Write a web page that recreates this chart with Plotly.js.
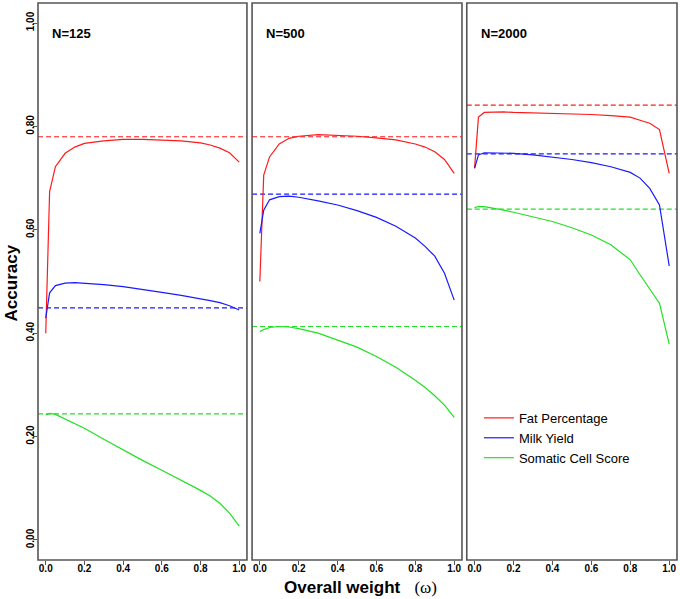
<!DOCTYPE html>
<html>
<head>
<meta charset="utf-8">
<script src="https://cdn.plot.ly/plotly-3.0.1.min.js"></script>
<style>
  html, body { margin: 0; padding: 0; background: #fff; }
  #chart { width: 680px; height: 599px; }
</style>
</head>
<body>
<div id="chart"></div>
<script>
// overall weight (omega) grid
const omega = [0, 0.02, 0.05, 0.1, 0.15, 0.2, 0.3, 0.4, 0.5, 0.6, 0.7, 0.8, 0.85, 0.9, 0.95, 1.0];

const panelNames = ['N=125', 'N=500', 'N=2000'];
const traitNames = ['Fat Percentage', 'Milk Yield', 'Somatic Cell Score'];

// N=125
const fat125  = [0.400, 0.674, 0.722, 0.748, 0.760, 0.767, 0.772, 0.775, 0.775, 0.774, 0.772, 0.768, 0.764, 0.758, 0.749, 0.731];
const milk125 = [0.429, 0.478, 0.492, 0.497, 0.498, 0.497, 0.494, 0.490, 0.485, 0.479, 0.473, 0.467, 0.463, 0.459, 0.453, 0.445];
const scs125  = [0.242, 0.245, 0.243, 0.234, 0.226, 0.216, 0.195, 0.174, 0.154, 0.135, 0.116, 0.096, 0.085, 0.071, 0.052, 0.027];

// N=500
const fat500  = [0.500, 0.706, 0.741, 0.766, 0.777, 0.781, 0.784, 0.783, 0.781, 0.778, 0.774, 0.766, 0.760, 0.751, 0.736, 0.709];
const milk500 = [0.593, 0.638, 0.658, 0.664, 0.665, 0.663, 0.656, 0.648, 0.637, 0.624, 0.607, 0.584, 0.568, 0.549, 0.516, 0.464];
const scs500  = [0.403, 0.407, 0.411, 0.413, 0.412, 0.409, 0.400, 0.387, 0.373, 0.355, 0.334, 0.309, 0.295, 0.279, 0.261, 0.237];

// N=2000
const fat2000  = [0.719, 0.818, 0.827, 0.828, 0.828, 0.827, 0.826, 0.826, 0.824, 0.823, 0.821, 0.818, 0.812, 0.806, 0.794, 0.709];
const milk2000 = [0.719, 0.745, 0.749, 0.749, 0.749, 0.748, 0.745, 0.741, 0.736, 0.730, 0.722, 0.711, 0.700, 0.680, 0.648, 0.530];
const scs2000  = [0.643, 0.645, 0.645, 0.642, 0.638, 0.634, 0.625, 0.616, 0.604, 0.590, 0.571, 0.542, 0.513, 0.486, 0.458, 0.379];

// reference accuracies (dashed lines): fat, milk, scs
const ref125  = [0.780, 0.449, 0.244];
const ref500  = [0.780, 0.669, 0.413];
const ref2000 = [0.841, 0.747, 0.640];

const panels = [
    [fat125, milk125, scs125, ref125],
    [fat500, milk500, scs500, ref500],
    [fat2000, milk2000, scs2000, ref2000]
];

const colors = ['#ff1a1a', '#1a1aff', '#22e022'];
const xRange = [-0.04, 1.04];
const yRange = [-0.0387, 1.0387];
const domains = [[0, 0.327], [0.335, 0.6635], [0.671, 1]];

const data = [];
panels.forEach((p, i) => {
    const xa = i === 0 ? 'x' : 'x' + (i + 1);
    const ya = i === 0 ? 'y' : 'y' + (i + 1);
    const ref = p[3];
    for (let k = 0; k < 3; k++) {
        data.push({
            x: xRange, y: [ref[k], ref[k]],
            xaxis: xa, yaxis: ya, mode: 'lines', showlegend: false,
            line: {color: colors[k], width: 1.2, dash: '5px,3px'}, hoverinfo: 'skip'
        });
    }
    for (let k = 0; k < 3; k++) {
        data.push({
            x: omega, y: p[k], name: traitNames[k],
            xaxis: xa, yaxis: ya, mode: 'lines', showlegend: i === 2,
            line: {color: colors[k], width: 1.2}
        });
    }
});

const tickFont = {family: 'Liberation Sans, Arial, sans-serif', size: 10, color: '#000', weight: 'bold'};

const xAxisBase = (d, anchor) => ({
    domain: d, range: xRange, anchor: anchor,
    showgrid: false, zeroline: false, showline: false,
    tickvals: [0, 0.2, 0.4, 0.6, 0.8, 1.0], ticktext: ['0.0', '0.2', '0.4', '0.6', '0.8', '1.0'],
    ticks: 'outside', ticklen: 4, tickcolor: '#555', tickwidth: 1,
    ticklabelstandoff: -5,
    tickfont: tickFont
});

const layout = {
    width: 680, height: 599,
    margin: {l: 38, r: 3, t: 3, b: 39},
    paper_bgcolor: '#fff', plot_bgcolor: '#fff',
    font: {family: 'Liberation Sans, Arial, sans-serif', color: '#000'},
    xaxis: xAxisBase(domains[0], 'y'),
    xaxis2: xAxisBase(domains[1], 'y2'),
    xaxis3: xAxisBase(domains[2], 'y3'),
    yaxis: {
        range: yRange, showgrid: false, zeroline: false, showline: false,
        tickvals: [0, 0.2, 0.4, 0.6, 0.8, 1.0], ticktext: ['0.00', '0.20', '0.40', '0.60', '0.80', '1.00'],
        ticks: 'outside', ticklen: 4, tickcolor: '#555', tickangle: -90,
        ticklabelstandoff: -5,
        tickfont: tickFont
    },
    yaxis2: {range: yRange, anchor: 'x2', visible: false},
    yaxis3: {range: yRange, anchor: 'x3', visible: false},
    showlegend: true,
    legend: {
        x: 0.69, y: 0.282, xanchor: 'left', yanchor: 'top',
        bgcolor: 'rgba(0,0,0,0)', borderwidth: 0,
        font: {family: 'Liberation Sans, Arial, sans-serif', size: 13, color: '#000'},
        itemwidth: 30, tracegroupgap: 0
    },
    shapes: [],
    annotations: []
};

// panel frames and labels
['x', 'x2', 'x3'].forEach((xa, i) => {
    const ya = i === 0 ? 'y' : 'y' + (i + 1);
    layout.shapes.push({
        type: 'rect', xref: xa + ' domain', yref: ya + ' domain',
        x0: 0, x1: 1, y0: 0, y1: 1,
        line: {color: '#555', width: 1.6}
    });
    layout.annotations.push({
        text: '<b>' + panelNames[i] + '</b>', xref: xa + ' domain', yref: ya + ' domain',
        x: 0.058, y: 0.946, xanchor: 'left', yanchor: 'middle', showarrow: false,
        font: {size: 13, color: '#000'}
    });
});

layout.annotations.push({
    text: '<b>Accuracy</b>', xref: 'paper', yref: 'paper',
    x: -0.041, xanchor: 'center', y: 0.498, yanchor: 'middle',
    textangle: -90, showarrow: false, font: {size: 17, color: '#000'}
});
layout.annotations.push({
    text: '<b>Overall weight</b>   <span style="font-family:Liberation Serif, Times New Roman, serif;font-weight:normal">(ω)</span>',
    xref: 'paper', yref: 'paper',
    x: 0.504, xanchor: 'center', y: -0.05, yanchor: 'middle',
    showarrow: false, font: {size: 17, color: '#000'}
});

Plotly.newPlot('chart', data, layout, {displayModeBar: false, staticPlot: true});
</script>
</body>
</html>
